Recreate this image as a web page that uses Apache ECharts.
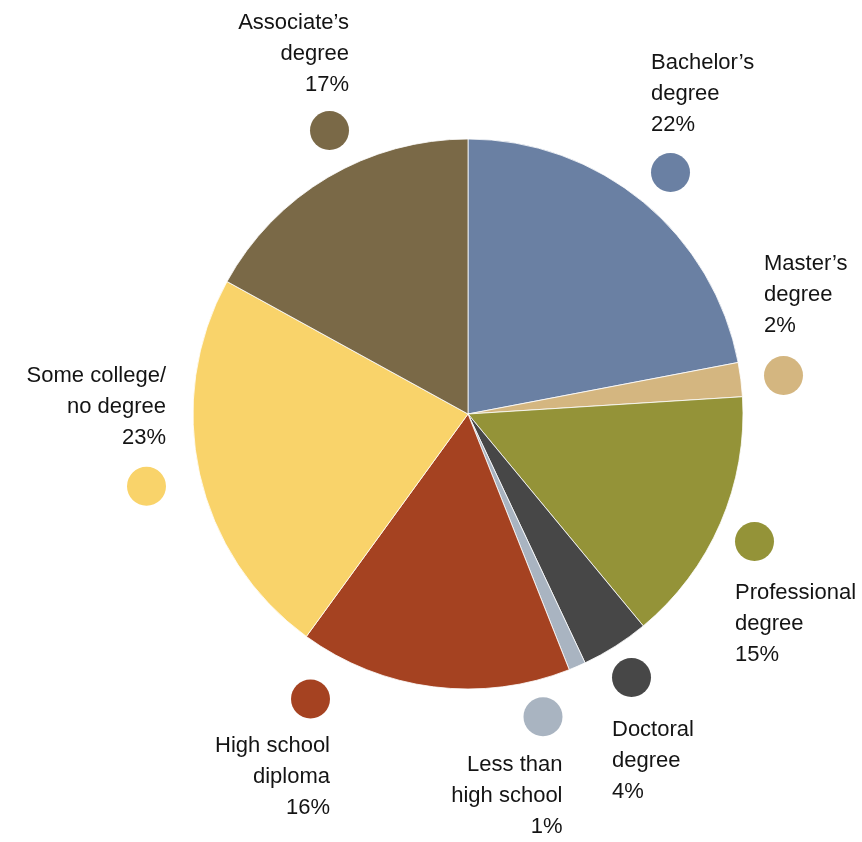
<!DOCTYPE html>
<html><head><meta charset="utf-8">
<script src="https://cdn.jsdelivr.net/npm/echarts@6/dist/echarts.min.js"></script>
<style>html,body{margin:0;padding:0;background:#fff}#c{width:862px;height:842px}</style>
</head><body><div id="c"></div>
<script>
const categories = ["Bachelor’s degree","Master’s degree","Professional degree","Doctoral degree","Less than high school","High school diploma","Some college/no degree","Associate’s degree"];
const labelTexts = [["Bachelor’s","degree"],["Master’s","degree"],["Professional","degree"],["Doctoral","degree"],["Less than","high school"],["High school","diploma"],["Some college/","no degree"],["Associate’s","degree"]];
const values = [22,2,15,4,1,16,23,17];
const colors = ["#6a80a3","#d4b680","#949338","#474747","#a9b4c1","#a54221","#f9d36a","#7a6947"];
// label block placement: [x, top y, align, dot first?, dot line height]
const labelPlacement = [
  [651, 47.5, 'left', false, 51.5],
  [764, 248.2, 'left', false, 53.8],
  [735, 522, 'left', true, 55.5],
  [612, 658, 'left', true, 56.2],
  [562.5, 697.3, 'right', true, 52.5],
  [330, 679.5, 'right', true, 51.3],
  [166, 360.8, 'right', false, 51.9],
  [349, 7.5, 'right', false, 49.5]
];
const FONT = '"Liberation Sans", Arial, sans-serif';

const data = categories.map((name, i) => {
  const p = labelPlacement[i];
  const textPart = labelTexts[i].map(s => '{t|' + s + '}').join('\n') + '\n{t|' + values[i] + '%}';
  const fmt = p[3] ? '{d|}\n' + textPart : textPart + '\n{d|}';
  return {
    name: name,
    value: values[i],
    itemStyle: { color: colors[i] },
    label: {
      formatter: fmt,
      rich: {
        t: { fontSize: 22, lineHeight: 31, color: '#141414', fontFamily: FONT },
        d: { width: 39, height: 39, borderRadius: 19.5, backgroundColor: colors[i], lineHeight: p[4], verticalAlign: p[3] ? 'top' : 'bottom' }
      }
    }
  };
});

const chart = echarts.init(document.getElementById('c'), null, { renderer: 'canvas' });
chart.setOption({
  animation: false,
  backgroundColor: '#ffffff',
  series: [{
    type: 'pie',
    center: [468, 414],
    radius: 275,
    startAngle: 90,
    clockwise: true,
    avoidLabelOverlap: false,
    itemStyle: { borderColor: '#ffffff', borderWidth: 0.8 },
    label: { show: true, position: 'outside', fontFamily: FONT },
    labelLine: { show: false },
    emphasis: { disabled: true },
    labelLayout: function (params) {
      const p = labelPlacement[params.dataIndex];
      return { x: p[0], y: p[1], align: p[2], verticalAlign: 'top' };
    },
    data: data
  }]
});
</script>
</body></html>
